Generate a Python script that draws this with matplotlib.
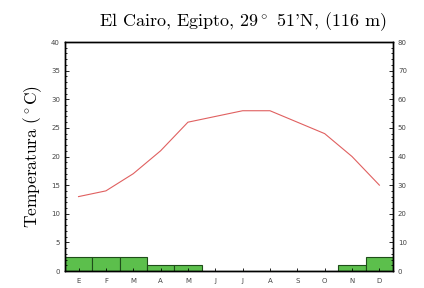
import numpy as np
import matplotlib.pyplot as plt
from matplotlib.ticker import MultipleLocator

plt.rcParams['mathtext.fontset'] = 'cm'

# Monthly data
months = ['E', 'F', 'M', 'A', 'M', 'J', 'J', 'A', 'S', 'O', 'N', 'D']
temp = [13, 14, 17, 21, 26, 27, 28, 28, 26, 24, 20, 15]
precip = [5, 5, 5, 2, 2, 0, 0, 0, 0, 0, 2, 5]

x = np.arange(len(months))

fig = plt.figure(figsize=(4.24, 2.88), dpi=100)
ax = fig.add_axes([0.153, 0.059, 0.774, 0.795])
ax2 = ax.twinx()

# Precipitation bars (right axis)
ax2.bar(x, precip, width=1.0, color='#5cbf4c', edgecolor='#1f4d1a', linewidth=0.8)
ax2.set_ylim(0, 80)
ax2.yaxis.set_major_locator(MultipleLocator(10))
ax2.yaxis.set_minor_locator(MultipleLocator(2))

# Temperature line (left axis)
ax.plot(x, temp, color='#e06060', linewidth=0.8, zorder=5)
ax.set_zorder(ax2.get_zorder() + 1)
ax.patch.set_visible(False)
ax.set_ylim(0, 40)
ax.set_xlim(-0.5, 11.5)
ax.yaxis.set_major_locator(MultipleLocator(5))
ax.yaxis.set_minor_locator(MultipleLocator(1))
ax.set_xticks(x)
ax.set_xticklabels(months)

for a in (ax, ax2):
    a.tick_params(which='both', direction='in', labelsize=5, labelcolor='#444444', width=0.6)
    a.tick_params(which='major', length=3)
    a.tick_params(which='minor', length=1.5)
    for s in a.spines.values():
        s.set_linewidth(1.0)
ax.tick_params(axis='x', length=2, pad=5)

ax.set_ylabel(r'$\mathrm{Temperatura\ (^\circ C)}$', fontsize=12.5, labelpad=5)
fig.text(0.573, 0.925, "El Cairo, Egipto, 29$^\\circ$ 51'N, (116 m)", family='cmr10',
         fontsize=13, ha='center', va='center')

plt.savefig('out.png', dpi=100)
